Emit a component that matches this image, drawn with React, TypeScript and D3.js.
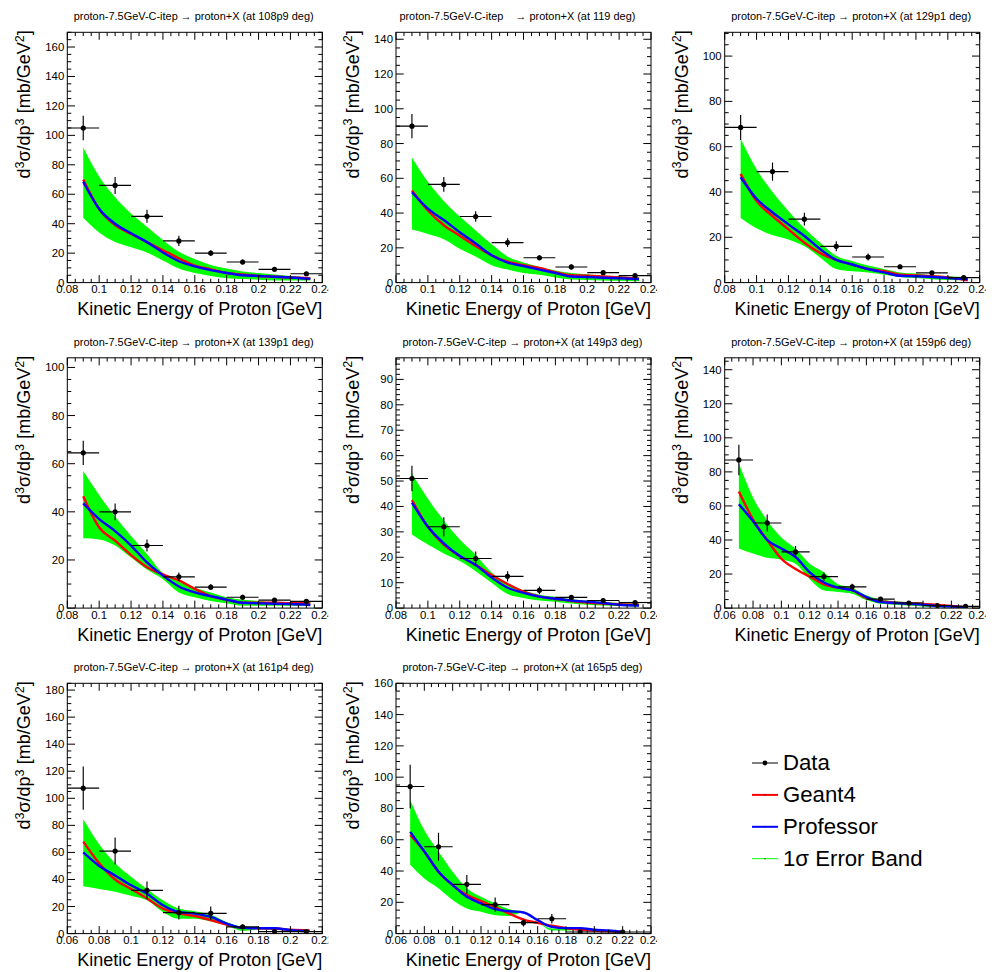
import React from "react";
import * as d3 from "d3";

// ---------- values ----------
const knotsA = [0.09,0.10,0.11,0.12,0.13,0.14,0.15,0.16,0.17,0.18,0.19,0.20,0.21,0.22,0.2325];
const knotsB = [0.07,0.08,0.09,0.10,0.11,0.12,0.13,0.14,0.15,0.16,0.17,0.18,0.19,0.20,0.21,0.22,0.23];
const knotsC = [0.07,0.08,0.09,0.10,0.11,0.12,0.13,0.14,0.15,0.16,0.17,0.18,0.19,0.20,0.212];
const knotsD = [0.07,0.08,0.09,0.10,0.11,0.12,0.13,0.14,0.15,0.16,0.17,0.18,0.19,0.20,0.21,0.22];

const pointsA = [0.09,0.11,0.13,0.15,0.17,0.19,0.21,0.23];
const pointsB = [0.07,0.09,0.11,0.13,0.15,0.17,0.19,0.21,0.23];
const pointsC = [0.07,0.09,0.11,0.13,0.15,0.17,0.19,0.21];
const pointsD = [0.07,0.09,0.11,0.13,0.15,0.17,0.19,0.22];
const xErrStd = [0.01,0.01,0.01,0.01,0.01,0.01,0.01,0.01,0.01];
const xErrD = [0.01,0.01,0.01,0.01,0.01,0.01,0.01,0.02];

const titles = [
  "proton-7.5GeV-C-itep → proton+X (at 108p9 deg)",
  "proton-7.5GeV-C-itep    → proton+X (at 119 deg)",
  "proton-7.5GeV-C-itep → proton+X (at 129p1 deg)",
  "proton-7.5GeV-C-itep → proton+X (at 139p1 deg)",
  "proton-7.5GeV-C-itep → proton+X (at 149p3 deg)",
  "proton-7.5GeV-C-itep → proton+X (at 159p6 deg)",
  "proton-7.5GeV-C-itep → proton+X (at 161p4 deg)",
  "proton-7.5GeV-C-itep → proton+X (at 165p5 deg)",
];
const xTitle = "Kinetic Energy of Proton [GeV]";
const legendLabels = ["Data", "Geant4", "Professor", "1σ Error Band"];

const p1Data = [105,66,45,28.3,20,14,9,6];
const p1Err = [8.3,5.8,4.4,3.5,2,1.7,1.2,1];
const p1Up = [92,72,58,47,38,29,21,16,12,9.5,7.5,6.5,5.5,4.5,3.5];
const p1Lo = [44,34,27.5,24,20.5,15,9.5,6.5,4.5,3,2.5,2,1.5,1.5,1.5];
const p1Red = [70,50,39,33,27.5,22,16.5,11.5,9,6.5,5.5,4.5,4,3.5,3];
const p1Blue = [68.5,50,40,33.5,27.5,20.5,14.5,11,8.5,6.5,5,4.5,4,3.5,2.5];

const p2Data = [90,56.5,38,23,14.3,9,5.7,4];
const p2Err = [7,4.2,3,2.5,1.5,1.4,1,0.8];
const p2Up = [72,58,47,38,30,22,15,11.5,9,7,5.5,4.8,4,3.5,3];
const p2Lo = [30.5,28,25,19.5,15,10,7.5,5.5,4.5,3,1.8,1.5,1.2,1,0.8];
const p2Red = [53,41.5,33,27,21,15.7,12,10,8.5,6,4.3,4,3.5,3,2.3];
const p2Blue = [52,42.6,36,29,22.5,15.7,11.5,9.5,7.5,5.5,3.5,3.2,2.8,2.5,2];

const p3Data = [68.5,49,28,16,11.3,7,4.3,2.2];
const p3Err = [5.5,4,2.8,2.2,1.5,1,0.8,0.6];
const p3Up = [63.5,50,40,31.6,24,17.6,11.8,9.5,7.5,6,4.5,4,3.2,2.8,2.5];
const p3Lo = [28.5,24,21,19,16,11,6,5,4.5,3.5,2.5,2,1.5,1.2,1];
const p3Red = [48,36,29.4,23.5,17.6,13,10,8,6,5,3.5,3.2,2.8,2.3,1];
const p3Blue = [46.5,37,31,25.7,20.6,14.7,10,8,6,4.5,3,2.8,2.5,2,1.5];

const p4Data = [64.5,40,26,13,8.7,4.5,3.3,2.8];
const p4Err = [5,3.5,2.5,1.8,1.2,1,0.7,0.6];
const p4Up = [57,47,38,30,22.5,14.5,11,8.5,6.5,4.5,3.5,3,2.5,2.2,2];
const p4Lo = [29,28.5,26,21,16,12,6.5,4.5,3,2,1,1,1,1,1];
const p4Red = [46.5,33.5,28,22,17,14,11.5,8,5,3.5,2.2,2.2,2.2,2,2];
const p4Blue = [43.5,37,32,26,19,13.5,9,6.5,5,3.5,2.2,2,1.8,1.7,1.3];

const p5Data = [51,32,19.5,12.5,7,4.2,3,2.2];
const p5Err = [5,3.8,2.8,2,1.5,1,0.7,0.6];
const p5Up = [53,43,34.5,27,21,14,9.5,7,5.3,4.5,3.5,3,2.5,2,1.7];
const p5Lo = [29,25,21.5,18.5,14.5,10,5.5,4,3,2.5,1.8,1.3,1,0.8,0.5];
const p5Red = [42.5,32,25,20.5,17,13,9.5,6.5,4.5,3.7,2.8,2.2,1.8,1.5,1.3];
const p5Blue = [41.5,32,25.5,20.5,17,12,8,6,4.5,3.7,3,2.5,2,1.3,1];

const p6Data = [87,50,33,18.5,12.5,5.3,3,1.5,1];
const p6Err = [9,5,3.5,2.5,1.8,1,0.7,0.5,0.4];
const p6Up = [85,65,51.5,41.5,35,26,21,14,12,7.5,5,4,3.5,3,2,1.5,1];
const p6Lo = [35,32,29.5,28.5,26,17,10.5,9.5,8.5,4.7,2.5,2,1.5,1,0.5,0.3,0.2];
const p6Red = [68.5,52,40,29,23,18.5,14,12,10.5,6,4,3.2,2.8,2.5,1.8,1.2,0.5];
const p6Blue = [61,51,40,35,30,21,15,12,10.5,6.5,3.5,3,2.5,2,1.3,1,0.5];

const p7Data = [107.5,61,32,15.5,15,5,1.5,1.5];
const p7Err = [16,10,6.5,5,5,1.5,1,0.8];
const p7Up = [84.5,66,52,42,33,24.6,18.5,16.5,14,8.6,5,4.5,4.5,3,2.5];
const p7Lo = [35,33,31,28,24.6,16,11,11,9,6,2,3,3,2,1.5];
const p7Red = [68,52,40,33,26,18.5,15,13,10,6.7,4.2,4,3.8,2.8,2.3];
const p7Blue = [60,50,43,35.7,29.5,21,16,14.8,12.3,7.4,4.2,4,4,2.5,1.8];

const p8Data = [94,55.5,31.5,18.5,7,9.5,1,1];
const p8Err = [14,9,6,4.5,2.5,3,0.8,0.8];
const p8Up = [85.6,66,52.5,39.6,29,23.5,19.3,15.6,14,7.5,3.2,3.5,3.5,3,2,1];
const p8Lo = [44,35.3,29,21.4,16,14,11.8,11.3,13.5,7.5,2,2,2.5,2,1,0.5];
const p8Red = [63,52.5,39.6,31,24.6,20.8,17,12.8,9,6.9,5,3.5,2.5,2,1.5,1];
const p8Blue = [65,52.5,39.6,31,23.5,19.3,15.6,14.3,13.5,8.6,4.3,3.5,3.5,2.5,2,1];

const xMinA = 0.08, xMaxA = 0.24;
const yMaxes = [170,144,110.5,104,98.5,147,185,160];
const yMajors = [20,20,20,20,10,20,20,20];
const ySubs = [4,4,4,4,5,4,4,4];

type Panel = { title:string; x0:number; x1:number; yMax:number; major:number; sub:number;
  px:number[]; pe:number[]; data:number[]; err:number[]; k:number[]; up:number[]; lo:number[]; red:number[]; blue:number[]; };

const xDom: [number,number][] = [[xMinA,xMaxA],[xMinA,xMaxA],[xMinA,xMaxA],[xMinA,xMaxA],[xMinA,xMaxA],[0.06,0.24],[0.06,0.22],[0.06,0.24]];
const pts = [pointsA,pointsA,pointsA,pointsA,pointsA,pointsB,pointsC,pointsD];
const xerrs = [xErrStd,xErrStd,xErrStd,xErrStd,xErrStd,xErrStd,xErrStd,xErrD];
const knots = [knotsA,knotsA,knotsA,knotsA,knotsA,knotsB,knotsC,knotsD];
const datas = [p1Data,p2Data,p3Data,p4Data,p5Data,p6Data,p7Data,p8Data];
const errs = [p1Err,p2Err,p3Err,p4Err,p5Err,p6Err,p7Err,p8Err];
const ups = [p1Up,p2Up,p3Up,p4Up,p5Up,p6Up,p7Up,p8Up];
const los = [p1Lo,p2Lo,p3Lo,p4Lo,p5Lo,p6Lo,p7Lo,p8Lo];
const reds = [p1Red,p2Red,p3Red,p4Red,p5Red,p6Red,p7Red,p8Red];
const blues = [p1Blue,p2Blue,p3Blue,p4Blue,p5Blue,p6Blue,p7Blue,p8Blue];

const panels: Panel[] = titles.map((title,i)=>({
  title, x0:xDom[i][0], x1:xDom[i][1], yMax:yMaxes[i], major:yMajors[i], sub:ySubs[i],
  px:pts[i], pe:xerrs[i], data:datas[i], err:errs[i], k:knots[i], up:ups[i], lo:los[i], red:reds[i], blue:blues[i],
}));

// ---------- layout ----------
const W = 996, H = 972;
const padW = 328.7, padH = 325.5;
const frameLeft = 67.3, frameTop = 32.3, frameW = 255, frameH = 250.3;
const FONT = "'Liberation Sans', Arial, sans-serif";
const GREEN = "#00ff00", RED = "#ff0000", BLUE = "#0000ff";

function fmt(v:number){ return String(+v.toFixed(3)); }

function PanelView({p,i}:{p:Panel;i:number}){
  const col = i%3, row = Math.floor(i/3);
  const ox = col*padW, oy = row*padH;
  const L = frameLeft, R = frameLeft+frameW, T = frameTop, B = frameTop+frameH;
  const x = d3.scaleLinear().domain([p.x0,p.x1]).range([L,R]);
  const y = d3.scaleLinear().domain([0,p.yMax]).range([B,T]);

  const n = Math.round((p.x1-p.x0)/0.005);
  const xt = d3.range(n+1).map(j=>p.x0+j*0.005);
  const yStep = p.major/p.sub;
  const yt = d3.range(Math.floor(p.yMax/yStep)+1).map(j=>j*yStep);

  const band = d3.area<number>().x((_,j)=>x(p.k[j])).y0(d=>y(d)).y1((_,j)=>y(p.up[j])).curve(d3.curveMonotoneX);
  const line = d3.line<number>().x((_,j)=>x(p.k[j])).y(d=>y(d)).curve(d3.curveMonotoneX);
  const clipF = `frame${i}`, clipP = `pad${i}`;
  const titleShift = i===1 ? -5 : 0;
  return (
    <g transform={`translate(${ox},${oy})`}>
      <defs>
        <clipPath id={clipF}><rect x={L} y={T} width={frameW} height={frameH}/></clipPath>
        <clipPath id={clipP}><rect x={0} y={0} width={padW-0.5} height={padH}/></clipPath>
      </defs>
      <text x={193.7+titleShift} y={20} textAnchor="middle" fontSize={10.95} fontFamily={FONT} fill="#000" xmlSpace="preserve" style={{whiteSpace:"pre"}}>{p.title}</text>
      <g clipPath={`url(#${clipF})`}>
        <path d={band(p.lo) || ""} fill={GREEN} stroke="none"/>
        <path d={line(p.red) || ""} fill="none" stroke={RED} strokeWidth={2.4}/>
        <path d={line(p.blue) || ""} fill="none" stroke={BLUE} strokeWidth={2.4}/>
        {p.px.map((px,j)=>(
          <g key={j} stroke="#000" strokeWidth={1.15}>
            <line x1={x(px-p.pe[j])} x2={x(px+p.pe[j])} y1={y(p.data[j])} y2={y(p.data[j])}/>
            <line x1={x(px)} x2={x(px)} y1={y(p.data[j]-p.err[j])} y2={y(p.data[j]+p.err[j])}/>
            <circle cx={x(px)} cy={y(p.data[j])} r={2.6} fill="#000" stroke="none"/>
          </g>
        ))}
      </g>
      <rect x={L} y={T} width={frameW} height={frameH} fill="none" stroke="#000" strokeWidth={1}/>
      <g stroke="#000" strokeWidth={1}>
        {xt.map((t,j)=>{ const len = j%4===0?7.5:3.8; return (
          <g key={j}>
            <line x1={x(t)} x2={x(t)} y1={B} y2={B-len}/>
            <line x1={x(t)} x2={x(t)} y1={T} y2={T+len}/>
          </g>);})}
        {yt.map((t,j)=>{ const len = j%p.sub===0?7.7:4; return (
          <g key={j}>
            <line x1={L} x2={L+len} y1={y(t)} y2={y(t)}/>
            <line x1={R} x2={R-len} y1={y(t)} y2={y(t)}/>
          </g>);})}
      </g>
      <g clipPath={`url(#${clipP})`} fontFamily={FONT} fontSize={11.4} fill="#000">
        {xt.filter((_,j)=>j%4===0).map((t,j)=>(
          <text key={j} x={x(t)} y={B+10.8} textAnchor="middle">{fmt(t)}</text>
        ))}
        {yt.filter((_,j)=>j%p.sub===0).map((t,j)=>(
          <text key={j} x={L-3} y={y(t)+4} textAnchor="end">{fmt(t)}</text>
        ))}
      </g>
      <text x={R} y={B+32.5} textAnchor="end" fontFamily={FONT} fontSize={18} fill="#000">{xTitle}</text>
      <text transform={`translate(${30.2},${T-2}) rotate(-90)`} textAnchor="end" fontFamily={FONT} fontSize={18} fill="#000">
        d<tspan fontSize={12.6} dy={-6.5}>3</tspan><tspan dy={6.5}>σ/dp</tspan><tspan fontSize={12.6} dy={-6.5}>3</tspan><tspan dy={6.5}> [mb/GeV</tspan><tspan fontSize={12.6} dy={-6.5}>2</tspan><tspan dy={6.5}>]</tspan>
      </text>
    </g>
  );
}

function Legend(){
  const ys = d3.scalePoint<string>().domain(legendLabels).range([763,858.7]);
  const colors = ["#000",RED,BLUE,GREEN];
  const widths = [1,2,2,1];
  return (
    <g fontFamily={FONT} fontSize={22.2} fill="#000">
      {legendLabels.map((l,i)=>{
        const yy = ys(l) as number;
        return (
          <g key={l}>
            <line x1={752} x2={778} y1={yy} y2={yy} stroke={colors[i]} strokeWidth={widths[i]}/>
            <circle cx={765} cy={yy} r={i===0?2.4:0.6} fill="#000"/>
            <text x={783} y={yy+7.2}>{l}</text>
          </g>
        );
      })}
    </g>
  );
}

export default function App(){
  return (
    <svg width={W} height={H} viewBox={`0 0 ${W} ${H}`} style={{position:"absolute",left:0,top:0,background:"#fff"}}>
      {panels.map((p,i)=><PanelView key={i} p={p} i={i}/>)}
      <Legend/>
    </svg>
  );
}
